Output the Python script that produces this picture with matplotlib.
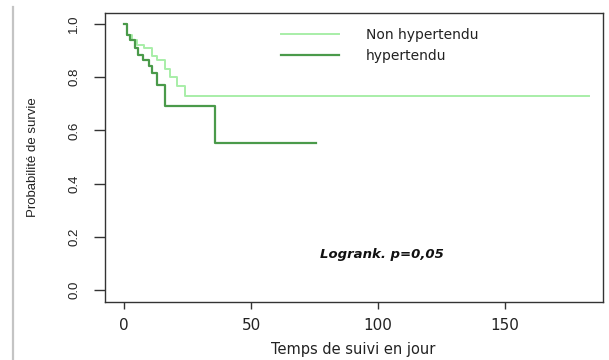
import matplotlib
matplotlib.use("Agg")
import matplotlib.pyplot as plt
from matplotlib.lines import Line2D

# Kaplan-Meier survival estimates (time in days, survival probability)
time_non_hta = [0, 1, 3, 5, 8, 11, 13, 16, 18, 21, 24, 183]
surv_non_hta = [1.0, 0.96, 0.94, 0.92, 0.91, 0.88, 0.865, 0.83, 0.80, 0.765, 0.73, 0.73]

time_hta = [0, 1, 2.5, 4.5, 5.5, 7.5, 10, 11, 13, 16, 36, 75.5]
surv_hta = [1.0, 0.96, 0.94, 0.91, 0.885, 0.865, 0.84, 0.815, 0.77, 0.69, 0.554, 0.554]

group_labels = ["Non hypertendu", "hypertendu"]
x_ticks = [0, 50, 100, 150]
y_ticks = [0.0, 0.2, 0.4, 0.6, 0.8, 1.0]
test_text = "Logrank. p=0,05"

col_light = "#a8eea8"
col_dark = "#4a9a4a"

fig = plt.figure(figsize=(6.09, 3.6), dpi=100)
ax = fig.add_axes([105 / 609, 58 / 360, 498 / 609, 289 / 360])

ax.step(time_non_hta, surv_non_hta, where="post", color=col_light, lw=1.4)
ax.step(time_hta, surv_hta, where="post", color=col_dark, lw=1.6)

ax.set_xlim(-7.5, 188.6)
ax.set_ylim(-0.045, 1.041)

ax.set_xticks(x_ticks)
ax.set_xticklabels([str(v) for v in x_ticks], fontfamily="DejaVu Sans", fontsize=11, color="#222222")
ax.set_yticks(y_ticks)
ax.set_yticklabels([f"{v:.1f}" for v in y_ticks], rotation=90, va="center",
                   fontfamily="Liberation Sans", fontsize=9.5, color="#222222")
ax.tick_params(axis="x", length=5, width=1, pad=6.5, colors="#333333")
ax.tick_params(axis="y", length=8, width=1, pad=10, colors="#333333")
for lab in ax.get_xticklabels() + ax.get_yticklabels():
    lab.set_color("#222222")

for sp in ax.spines.values():
    sp.set_color("#333333")
    sp.set_linewidth(1.0)

ax.set_xlabel("Temps de suivi en jour", fontfamily="DejaVu Sans", fontsize=10.5, color="#222222")
ax.xaxis.set_label_coords(0.498, -0.166)
ax.xaxis.label.set_va("center")
ax.set_ylabel("Probabilité de survie", fontfamily="Liberation Sans", fontsize=9.5, color="#222222")
ax.yaxis.set_label_coords(-0.145, 0.5)
ax.yaxis.label.set_va("center")

handles = [Line2D([], [], color=col_light, lw=1.4), Line2D([], [], color=col_dark, lw=1.6)]
ax.legend(handles, group_labels, loc="upper left", bbox_to_anchor=(0.353, 0.948),
          frameon=False, borderpad=0, borderaxespad=0, handlelength=4.17,
          handletextpad=1.94, labelspacing=0.5,
          prop={"family": "DejaVu Sans", "size": 10}, labelcolor="#222222")

ax.text(0.557, 0.163, test_text, transform=ax.transAxes, ha="center", va="center",
        fontfamily="DejaVu Sans", fontsize=9.5, fontweight="bold", fontstyle="italic",
        color="#111111")

# thin grey rule on the left edge of the page
fig.add_artist(Line2D([13 / 609, 13 / 609], [0, 353 / 360], transform=fig.transFigure,
                      color="#c4c4c4", lw=1.6))

fig.savefig("out.png", dpi=100)
